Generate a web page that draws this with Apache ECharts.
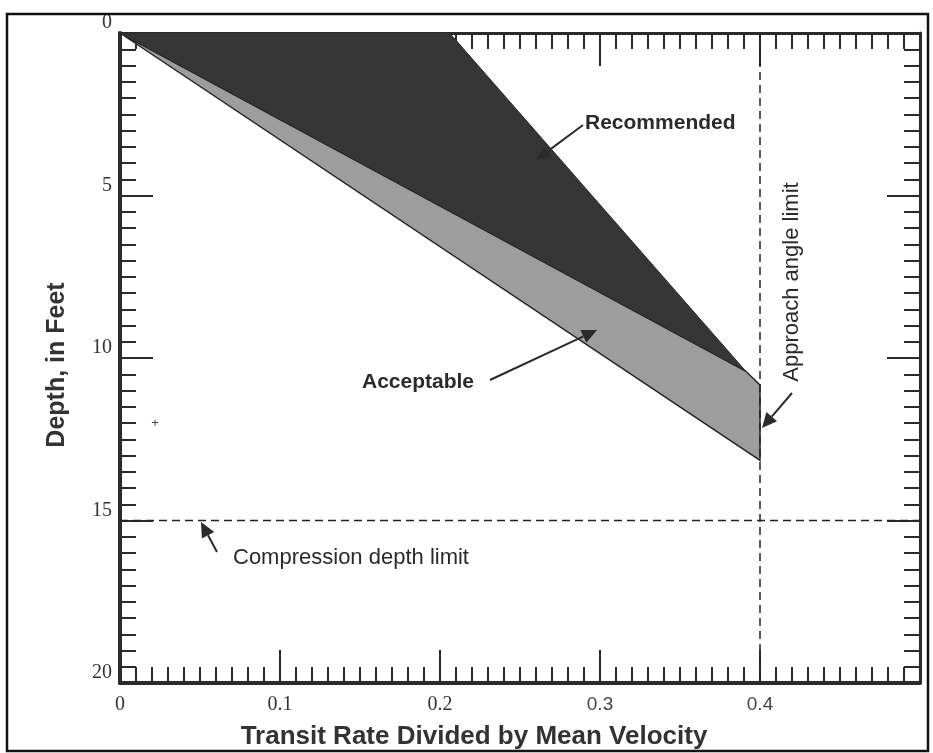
<!DOCTYPE html>
<html><head><meta charset="utf-8">
<script src="https://cdn.jsdelivr.net/npm/echarts@6/dist/echarts.min.js"></script>
<style>html,body{margin:0;padding:0;background:#fff}#c{width:933px;height:753px}</style>
</head><body><div id="c"></div>
<script>
// ---- data ----
const recommendedX = [0, 0.206, 0.391];
const recommendedDepth = [0, 0, 10.4];
const acceptableX = [0, 0.391, 0.4, 0.4];
const acceptableDepth = [0, 10.4, 10.83, 13.15];
const approachAngleLimit = 0.4;
const compressionDepthLimit = 15;
const xTickValues = [0, 0.1, 0.2, 0.3, 0.4, 0.5];
const xTickLabels = ['0', '0.1', '0.2', '0.3', '0.4', ''];
const yTickValues = [0, 5, 10, 15, 20];
const yTickLabels = ['0', '5', '10', '15', '20'];

// ---- chart ----
const chart = echarts.init(document.getElementById('c'), null, {renderer: 'canvas'});
const INK = '#2b2b2b';
const tickLine = {color: INK, width: 2};

function polySeries(xs, ds, fill, stroke, lw, z) {
  return {
    type: 'custom', coordinateSystem: 'cartesian2d', xAxisIndex: 0, yAxisIndex: 0,
    silent: true, z: z, clip: false,
    data: xs.map((x, i) => [x, ds[i]]),
    renderItem: function (params, api) {
      if (params.dataIndex !== 0) return null;
      const pts = xs.map((x, i) => api.coord([x, ds[i]]));
      return {type: 'polygon', shape: {points: pts}, style: {fill: fill, stroke: stroke, lineWidth: lw}};
    }
  };
}
function lookup(values, labels, v) {
  const i = values.findIndex(t => Math.abs(t - v) < 1e-9);
  return i < 0 ? '' : labels[i];
}
function xAxisCfg(pos, showLabel, lw) {
  return {
    type: 'value', position: pos, min: 0, max: 0.5, interval: 0.1,
    axisLine: {show: true, onZero: false, lineStyle: {color: INK, width: lw}},
    axisTick: {show: true, inside: true, length: 33, lineStyle: tickLine},
    minorTick: {show: true, splitNumber: 10, length: 16, lineStyle: tickLine},
    splitLine: {show: false}, minorSplitLine: {show: false},
    axisLabel: {
      show: showLabel, margin: 12, fontFamily: 'Liberation Serif', fontSize: 20, color: '#333',
      formatter: function (v) {
        const s = lookup(xTickValues, xTickLabels, v);
        if (!s) return '';
        return v >= 0.25 ? '{s|' + s + '}' : s;
      },
      rich: {s: {fontFamily: 'Liberation Sans', fontSize: 19, color: '#444'}}
    }
  };
}
function yAxisCfg(pos, showLabel, lw) {
  return {
    type: 'value', position: pos, inverse: true, min: 0, max: 20, interval: 5,
    axisLine: {show: true, onZero: false, lineStyle: {color: INK, width: lw}},
    axisTick: {show: true, inside: true, length: 33, lineStyle: tickLine},
    minorTick: {show: true, splitNumber: 10, length: 16, lineStyle: tickLine},
    splitLine: {show: false}, minorSplitLine: {show: false},
    axisLabel: {
      show: showLabel, margin: 8, verticalAlign: 'bottom', fontFamily: 'Liberation Serif',
      fontSize: 20, color: '#333',
      formatter: function (v) { return lookup(yTickValues, yTickLabels, v); }
    }
  };
}

function arrow(x1, y1, x2, y2, L, W) {
  const dx = x2 - x1, dy = y2 - y1, len = Math.hypot(dx, dy);
  const ux = dx / len, uy = dy / len;
  const bx = x2 - L * ux, by = y2 - L * uy;
  const px = -uy, py = ux;
  return [
    {type: 'line', shape: {x1: x1, y1: y1, x2: bx, y2: by}, style: {stroke: INK, lineWidth: 2}, z: 100},
    {type: 'polygon', shape: {points: [[x2, y2], [bx + W * px, by + W * py], [bx - W * px, by - W * py]]},
      style: {fill: INK}, z: 100}
  ];
}
function txt(text, x, y, opts) {
  return Object.assign({
    type: 'text', x: x, y: y, z: 100,
    style: Object.assign({text: text, fill: '#2a2a2a', fontFamily: 'Liberation Sans', fontSize: 22,
      textAlign: 'left', textVerticalAlign: 'middle'}, opts.style || {})
  }, opts.el || {});
}

const graphics = [
  {type: 'rect', shape: {x: 7, y: 14, width: 921, height: 737}, style: {fill: 'none', stroke: '#111', lineWidth: 2.5}, z: 100},
  txt('Transit Rate Divided by Mean Velocity', 474, 737, {style: {fontWeight: 'bold', fontSize: 26, textAlign: 'center', fill: '#333'}}),
  txt('Depth, in Feet', 57, 365, {style: {fontWeight: 'bold', fontSize: 25, textAlign: 'center', fill: '#333'}, el: {rotation: Math.PI / 2}}),
  txt('Recommended', 585, 123, {style: {fontWeight: 'bold', fontSize: 21}}),
  txt('Acceptable', 362, 382, {style: {fontWeight: 'bold', fontSize: 21}}),
  txt('Approach angle limit', 792, 282, {style: {fontSize: 22, textAlign: 'center'}, el: {rotation: Math.PI / 2}}),
  txt('Compression depth limit', 233, 558, {style: {fontSize: 22}}),
  txt('+', 155, 423, {style: {fontSize: 13, textAlign: 'center', fill: '#444'}})
].concat(
  arrow(583, 125, 536, 160, 14, 6),
  arrow(490, 380, 597, 330, 15, 7),
  arrow(792, 393, 762, 428, 15, 7),
  arrow(217, 552, 201, 522, 15, 7)
);

chart.setOption({
  animation: false,
  backgroundColor: '#fff',
  grid: {left: 120, top: 33, width: 800, height: 650, containLabel: false},
  xAxis: [xAxisCfg('bottom', true, 4), xAxisCfg('top', false, 3)],
  yAxis: [yAxisCfg('left', true, 4), yAxisCfg('right', false, 3)],
  series: [
    polySeries(acceptableX, acceptableDepth, '#9d9d9d', '#222', 1.5, 3),
    polySeries(recommendedX, recommendedDepth, '#363636', '#2a2a2a', 1, 4),
    {
      type: 'line', silent: true, z: 5, symbol: 'none',
      data: [[approachAngleLimit, 0], [approachAngleLimit, 20]],
      lineStyle: {color: '#222', width: 1.5, type: [8, 5]}
    },
    {
      type: 'line', silent: true, z: 5, symbol: 'none',
      data: [[0, compressionDepthLimit], [0.5, compressionDepthLimit]],
      lineStyle: {color: '#222', width: 1.5, type: [8, 5]}
    }
  ],
  graphic: graphics
});
</script>
</body></html>
